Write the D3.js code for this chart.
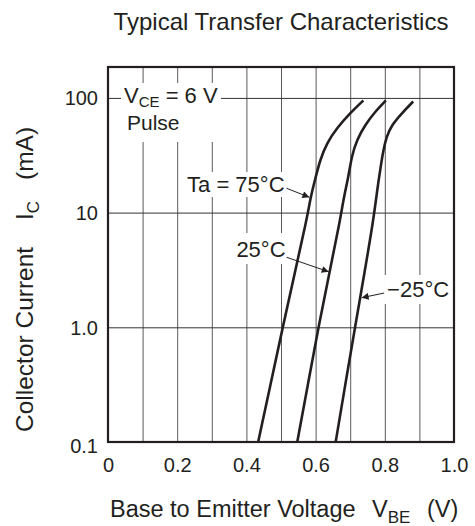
<!DOCTYPE html>
<html><head><meta charset="utf-8">
<script src="https://cdn.jsdelivr.net/npm/d3@7"></script>
<style>
body{margin:0;background:#fff}
svg{display:block}
text{font-family:"Liberation Sans",Arial,Helvetica,sans-serif;fill:#231f20}
</style>
</head><body>
<svg id="chart" width="475" height="526"></svg>
<script>
// ---- data ----
const seriesNames = ["Ta = 75°C", "25°C", "−25°C"];
const vbe75 = [0.434, 0.470, 0.505, 0.540, 0.574, 0.586, 0.598, 0.613, 0.632, 0.661, 0.699, 0.738];
const ic75  = [0.1,   0.32,  1.0,   3.0,   8.6,   13.8,  19.2,  28.8,  40.2,  54.3,  73.5,  95];
const vbe25 = [0.547, 0.578, 0.608, 0.640, 0.671, 0.680, 0.695, 0.704, 0.719, 0.743, 0.772, 0.803];
const ic25  = [0.1,   0.32,  1.0,   3.0,   8.6,   12.9,  20.6,  30.7,  43,    58,    75.9,  95];
const vbeM25 = [0.658, 0.686, 0.714, 0.741, 0.767, 0.778, 0.788, 0.796, 0.805, 0.820, 0.849, 0.882];
const icM25  = [0.1,   0.32,  1.0,   2.95,  8.6,   15.7,  25.1,  35.2,  45.9,  58,    73.5,  93];

const xTickValues = [0, 0.2, 0.4, 0.6, 0.8, 1.0];
const xTickLabels = ["0", "0.2", "0.4", "0.6", "0.8", "1.0"];
const xGridValues = [0.1, 0.2, 0.3, 0.4, 0.5, 0.6, 0.7, 0.8, 0.9];
const yTickValues = [0.1, 1, 10, 100];
const yTickLabels = ["0.1", "1.0", "10", "100"];
const xDomain = [0, 1.0];
const yDomain = [0.1, 186];

// arrows: [label anchor V, I] -> [tip V, I]
const arrow75  = [[0.516, 16.3], [0.582, 13.6]];
const arrow25  = [[0.516, 4.08], [0.638, 3.05]];
const arrowM25 = [[0.798, 1.99], [0.733, 1.81]];

// ---- layout ----
const svg = d3.select("#chart");
const L = 108, R = 454, T = 67, B = 442;
const x = d3.scaleLinear().domain(xDomain).range([L, R]);
const y = d3.scaleLog().domain(yDomain).range([B, T]);
const ink = "#231f20";

// grid
svg.append("g").attr("transform", `translate(0,${B})`)
  .call(d3.axisBottom(x).tickValues(xGridValues).tickSize(-(B - T)).tickFormat(""))
  .call(g => g.select(".domain").remove())
  .call(g => g.selectAll("line").attr("stroke", "#5a5a5a").attr("stroke-width", 1));
svg.append("g").attr("transform", `translate(${L},0)`)
  .call(d3.axisLeft(y).tickValues([1, 10, 100]).tickSize(-(R - L)).tickFormat(""))
  .call(g => g.select(".domain").remove())
  .call(g => g.selectAll("line").attr("stroke", "#333").attr("stroke-width", 1));

// tick labels
svg.append("g").attr("transform", `translate(0,${B})`)
  .call(d3.axisBottom(x).tickValues(xTickValues).tickSize(0).tickPadding(16)
        .tickFormat((d, i) => xTickLabels[i]))
  .call(g => g.select(".domain").remove())
  .call(g => g.selectAll("text").attr("font-size", 20).attr("font-family", null).attr("fill", ink));
svg.append("g").attr("transform", `translate(${L},0)`)
  .call(d3.axisLeft(y).tickValues(yTickValues).tickSize(0).tickPadding(10)
        .tickFormat((d, i) => yTickLabels[i]))
  .call(g => g.select(".domain").remove())
  .call(g => g.selectAll("text").attr("font-size", 20).attr("font-family", null).attr("fill", ink)
    .attr("dy", d => d === 0.1 ? "0.5em" : "0.35em"));

const bgLayer = svg.append("g");
const curveLayer = svg.append("g");
const labelLayer = svg.append("g");

function knock(nodes, padX, padTop, padBot) {
  let x0 = Infinity, y0 = Infinity, x1 = -Infinity, y1 = -Infinity;
  nodes.forEach(n => {
    const b = n.getBBox();
    x0 = Math.min(x0, b.x); y0 = Math.min(y0, b.y);
    x1 = Math.max(x1, b.x + b.width); y1 = Math.max(y1, b.y + b.height);
  });
  bgLayer.append("rect").attr("x", x0 - padX).attr("y", y0 - padTop)
    .attr("width", x1 - x0 + 2 * padX).attr("height", y1 - y0 + padTop + padBot)
    .attr("fill", "#fff");
}

// VCE label
const vce = labelLayer.append("text").attr("x", 124).attr("y", 103).attr("font-size", 22);
vce.append("tspan").text("V");
vce.append("tspan").text("CE").attr("font-size", 15).attr("dy", 4);
vce.append("tspan").text(" = 6 V").attr("dy", -4);
const pulse = labelLayer.append("text").attr("x", 127).attr("y", 130).attr("font-size", 21).text("Pulse");
knock([vce.node(), pulse.node()], 3, 0, 8);

// temperature labels
const t75 = labelLayer.append("text").attr("x", x(arrow75[0][0]) - 2).attr("y", 192)
  .attr("text-anchor", "end").attr("font-size", 22).text(seriesNames[0]);
knock([t75.node()], 3, 0, 0);
const t25 = labelLayer.append("text").attr("x", x(arrow25[0][0]) - 1).attr("y", 257)
  .attr("text-anchor", "end").attr("font-size", 22).text(seriesNames[1]);
knock([t25.node()], 3, 4, 2);
const tm25 = labelLayer.append("text").attr("x", x(arrowM25[0][0]) + 3).attr("y", 297)
  .attr("text-anchor", "start").attr("font-size", 22).text(seriesNames[2]);
knock([tm25.node()], 3, 2, 2);

// curves
const line = d3.line().x(d => x(d[0])).y(d => y(d[1])).curve(d3.curveBasis);
[[vbe75, ic75], [vbe25, ic25], [vbeM25, icM25]].forEach(([v, ic]) => {
  curveLayer.append("path").datum(v.map((d, i) => [d, ic[i]]))
    .attr("d", line).attr("fill", "none").attr("stroke", ink)
    .attr("stroke-width", 2.6).attr("stroke-linecap", "butt");
});

// arrows
svg.append("defs").append("marker").attr("id", "ah")
  .attr("viewBox", "0 0 10 10").attr("refX", 10).attr("refY", 5)
  .attr("markerWidth", 9).attr("markerHeight", 7).attr("markerUnits", "userSpaceOnUse")
  .attr("orient", "auto")
  .append("path").attr("d", "M0,0 L10,5 L0,10 Z").attr("fill", ink);
[arrow75, arrow25, arrowM25].forEach(a => {
  labelLayer.append("line")
    .attr("x1", x(a[0][0])).attr("y1", y(a[0][1]))
    .attr("x2", x(a[1][0])).attr("y2", y(a[1][1]))
    .attr("stroke", ink).attr("stroke-width", 1).attr("marker-end", "url(#ah)");
});

// frame
svg.append("rect").attr("x", L).attr("y", T).attr("width", R - L).attr("height", B - T)
  .attr("fill", "none").attr("stroke", ink).attr("stroke-width", 2.2);

// title
svg.append("text").attr("x", 281).attr("y", 30).attr("text-anchor", "middle")
  .attr("font-size", 24).text("Typical Transfer Characteristics");

// x label
const xl = svg.append("g").attr("font-size", 23.5);
xl.append("text").attr("x", 110).attr("y", 517).text("Base to Emitter Voltage");
const xv = xl.append("text").attr("x", 372).attr("y", 517);
xv.append("tspan").text("V");
xv.append("tspan").text("BE").attr("font-size", 17).attr("dy", 6);
xl.append("text").attr("x", 427).attr("y", 517).text("(V)");

// y label
const yl = svg.append("g").attr("transform", "translate(33,0) rotate(-90)").attr("font-size", 24.5);
yl.append("text").attr("x", -432).attr("y", 0).text("Collector Current");
const yi = yl.append("text").attr("x", -220).attr("y", 0);
yi.append("tspan").text("I");
yi.append("tspan").text("C").attr("font-size", 17).attr("dy", 6);
yl.append("text").attr("x", -180).attr("y", 0).text("(mA)");
</script>
</body></html>
